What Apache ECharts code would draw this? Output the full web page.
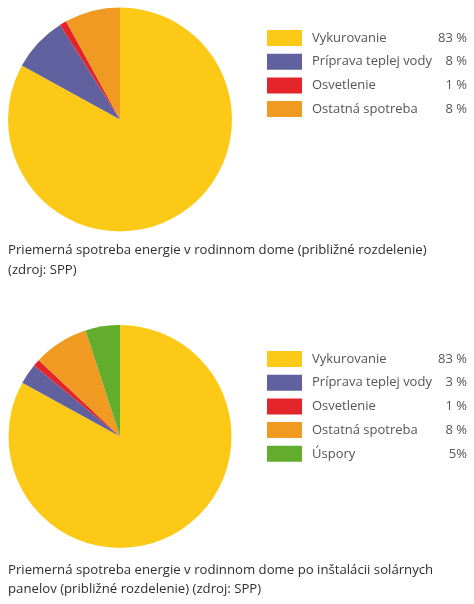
<!DOCTYPE html>
<html>
<head>
<meta charset="utf-8">
<script src="https://cdn.jsdelivr.net/npm/echarts@6/dist/echarts.min.js"></script>
<style>
html,body{margin:0;padding:0;background:#fff;}
#c{width:474px;height:604px;}
</style>
</head>
<body>
<div id="c"></div>
<script>
// Chart 1
const categories1 = ['Vykurovanie', 'Príprava teplej vody', 'Osvetlenie', 'Ostatná spotreba'];
const values1 = [83, 8, 1, 8];
const valueLabels1 = ['83 %', '8 %', '1 %', '8 %'];
// Chart 2
const categories2 = ['Vykurovanie', 'Príprava teplej vody', 'Osvetlenie', 'Ostatná spotreba', 'Úspory'];
const values2 = [83, 3, 1, 8, 5];
const valueLabels2 = ['83 %', '3 %', '1 %', '8 %', '5%'];
const caption1 = 'Priemerná spotreba energie v rodinnom dome (približné rozdelenie)\n(zdroj: SPP)';
const caption2 = 'Priemerná spotreba energie v rodinnom dome po inštalácii solárnych\npanelov (približné rozdelenie) (zdroj: SPP)';

const colorMap = {
  'Vykurovanie': '#FCCA16',
  'Príprava teplej vody': '#60619E',
  'Osvetlenie': '#E32428',
  'Ostatná spotreba': '#F19A22',
  'Úspory': '#62AD2E'
};

const FONT = 'Open Sans';

function legendFor(cats, labels, top) {
  return {
    orient: 'vertical',
    left: 267,
    top: top,
    padding: 0,
    itemWidth: 35,
    itemHeight: 16,
    itemGap: 7.7,
    icon: 'rect',
    selectedMode: false,
    data: cats.map(n => ({name: n, icon: 'rect'})),
    formatter: function (name) {
      const i = cats.indexOf(name);
      return '{n|' + name + '}{v|' + labels[i] + '}';
    },
    textStyle: {
      fontFamily: FONT,
      fontSize: 13,
      color: '#555',
      rich: {
        n: {fontFamily: FONT, fontSize: 13, color: '#555', width: 123, padding: [0, 0, 0, 5], lineHeight: 16},
        v: {fontFamily: FONT, fontSize: 13, color: '#555', width: 32, align: 'right', lineHeight: 16}
      }
    }
  };
}

function pieData(cats, vals) {
  return cats.map((n, i) => ({name: n, value: vals[i], itemStyle: {color: colorMap[n]}}));
}

const chart = echarts.init(document.getElementById('c'), null, {renderer: 'canvas'});
chart.setOption({
  animation: false,
  backgroundColor: '#fff',
  title: [
    {text: caption1, left: 8, top: 240, padding: 0, textStyle: {fontFamily: FONT, fontSize: 13.2, fontWeight: 'normal', color: '#2e2e2e', lineHeight: 20}},
    {text: caption2, left: 8, top: 560.5, padding: 0, textStyle: {fontFamily: FONT, fontSize: 13.2, fontWeight: 'normal', color: '#2e2e2e', lineHeight: 19}}
  ],
  legend: [legendFor(categories1, valueLabels1, 30), legendFor(categories2, valueLabels2, 351)],
  series: [
    {
      type: 'pie',
      center: [120, 119.5],
      radius: 112,
      startAngle: 90,
      clockwise: true,
      label: {show: false},
      labelLine: {show: false},
      itemStyle: {borderWidth: 0},
      emphasis: {disabled: true},
      data: pieData(categories1, values1)
    },
    {
      type: 'pie',
      center: [120, 436.5],
      radius: 111.5,
      startAngle: 90,
      clockwise: true,
      label: {show: false},
      labelLine: {show: false},
      itemStyle: {borderWidth: 0},
      emphasis: {disabled: true},
      data: pieData(categories2, values2)
    }
  ]
});
</script>
</body>
</html>
